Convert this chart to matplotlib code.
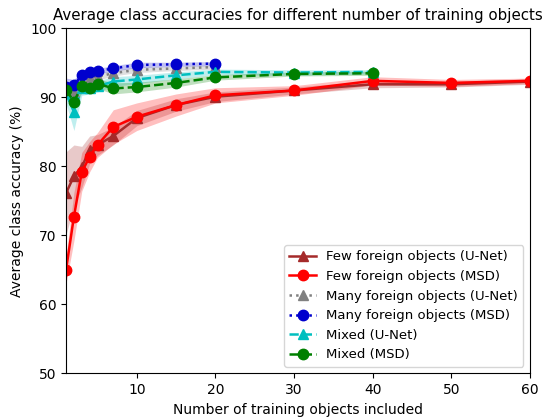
import matplotlib
matplotlib.use('Agg')
import matplotlib.pyplot as plt
import numpy as np

# training set sizes
x_few = [1, 2, 3, 4, 5, 7, 10, 15, 20, 30, 40, 50, 60]
x_many = [1, 2, 3, 4, 5, 7, 10, 15, 20]
x_mixed = [1, 2, 3, 4, 5, 7, 10, 15, 20, 30, 40]

# mean accuracies (%) and spread
few_unet = [76.1, 78.6, 79.9, 82.4, 83.1, 84.4, 87.0, 88.9, 90.1, 91.0, 91.9, 91.9, 92.3]
few_unet_std = [6.0, 4.5, 3.0, 2.0, 1.5, 1.3, 1.1, 0.9, 0.7, 0.5, 0.5, 0.4, 0.4]
few_msd = [65.0, 72.7, 79.2, 81.4, 83.1, 85.7, 87.2, 88.9, 90.3, 91.0, 92.4, 92.1, 92.4]
few_msd_std = [2.0, 3.5, 2.8, 2.2, 1.8, 2.5, 2.0, 1.6, 1.1, 0.7, 0.6, 0.5, 0.4]

many_unet = [90.9, 90.8, 92.1, 92.8, 93.0, 93.5, 94.0, 94.2, 94.4]
many_unet_std = [1.2, 0.8, 0.6, 0.5, 0.5, 0.4, 0.4, 0.3, 0.3]
many_msd = [91.5, 91.8, 93.2, 93.7, 93.8, 94.2, 94.7, 94.8, 94.9]
many_msd_std = [1.3, 0.8, 0.6, 0.5, 0.4, 0.4, 0.4, 0.3, 0.3]

mixed_unet = [90.6, 87.9, 91.3, 91.4, 91.6, 92.3, 92.6, 93.2, 93.7, 93.6, 93.7]
mixed_unet_std = [1.5, 2.7, 1.0, 0.9, 0.8, 0.7, 0.6, 0.5, 0.4, 0.4, 0.3]
mixed_msd = [91.1, 89.4, 91.6, 91.3, 92.0, 91.3, 91.5, 92.1, 92.9, 93.4, 93.5]
mixed_msd_std = [1.0, 1.2, 0.9, 0.8, 0.7, 0.8, 0.7, 0.6, 0.4, 0.3, 0.3]

series = [
    ('Few foreign objects (U-Net)', x_few, few_unet, few_unet_std, 'brown', '-', '^'),
    ('Few foreign objects (MSD)', x_few, few_msd, few_msd_std, 'red', '-', 'o'),
    ('Many foreign objects (U-Net)', x_many, many_unet, many_unet_std, 'grey', ':', '^'),
    ('Many foreign objects (MSD)', x_many, many_msd, many_msd_std, 'mediumblue', ':', 'o'),
    ('Mixed (U-Net)', x_mixed, mixed_unet, mixed_unet_std, 'c', '--', '^'),
    ('Mixed (MSD)', x_mixed, mixed_msd, mixed_msd_std, 'green', '--', 'o'),
]

fig = plt.figure(figsize=(5.55, 4.18), dpi=100)
ax = fig.add_axes([0.119, 0.107, 0.836, 0.825])

for label, xs, ys, sd, color, ls, marker in series:
    xs = np.array(xs)
    ys = np.array(ys)
    sd = np.array(sd)
    ax.fill_between(xs, ys - sd, ys + sd, color=color, alpha=0.25, linewidth=0)
    ax.plot(xs, ys, color=color, linestyle=ls, marker=marker, markersize=7.5,
            linewidth=1.8, label=label)

ax.set_xlim(1, 60)
ax.set_ylim(50, 100)
ax.set_xticks([10, 20, 30, 40, 50, 60])
ax.set_yticks([50, 60, 70, 80, 90, 100])
ax.tick_params(labelsize=10)
ax.set_title('Average class accuracies for different number of training objects', fontsize=10.8)
ax.set_xlabel('Number of training objects included', fontsize=10)
ax.set_ylabel('Average class accuracy (%)', fontsize=10)
ax.legend(loc='lower right', fontsize=9.5)

fig.savefig('out.png', dpi=100)
